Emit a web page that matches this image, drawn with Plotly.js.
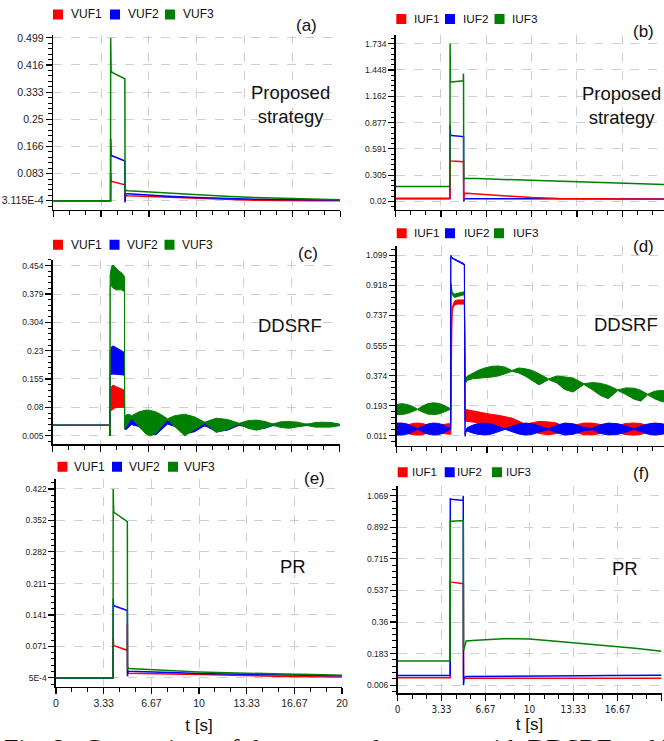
<!DOCTYPE html>
<html>
<head>
<meta charset="utf-8">
<script src="https://cdn.plot.ly/plotly-3.0.1.min.js"></script>
<style>html,body{margin:0;padding:0;background:#fff;}#chart{width:664px;height:741px;}</style>
</head>
<body>
<div id="chart"></div>
<script>
// ---------------- DATA ----------------
// common x ticks
const xTickVals = [0, 3.33, 6.67, 10, 13.33, 16.67, 20];
const xTickText = ['0', '3.33', '6.67', '10', '13.33', '16.67', '20'];

// (a) Proposed strategy - VUF
const tA    = [0, 3.99, 4.0, 4.03, 4.1, 4.99, 5.0, 5.03, 5.2, 6, 8, 10, 12, 14, 16, 18, 20];
const vufA1 = [0.0003, 0.0003, 0.085, 0.060, 0.059, 0.049, 0.000, 0.016, 0.0155, 0.014, 0.011, 0.0083, 0.005, 0.002, 0.0005, 0.0003, 0.0003];
const vufA2 = [0.0003, 0.0003, 0.190, 0.140, 0.138, 0.122, -0.005, 0.022, 0.0215, 0.019, 0.014, 0.0104, 0.007, 0.005, 0.004, 0.003, 0.0023];
const vufA3 = [0.0003, 0.0003, 0.499, 0.400, 0.393, 0.374, 0.020, 0.033, 0.031, 0.029, 0.022, 0.0186, 0.014, 0.010, 0.007, 0.005, 0.0033];
const yTickValsA = [0.0003115, 0.083, 0.166, 0.25, 0.333, 0.416, 0.499];
const yTickTextA = ['3.115E-4', '0.083', '0.166', '0.25', '0.333', '0.416', '0.499'];

// (b) Proposed strategy - IUF
const tB    = [0, 3.99, 4.0, 4.03, 4.1, 4.97, 4.98, 4.99, 5.0, 5.05, 6, 8, 10, 12, 14, 16, 18, 20];
const iufB1 = [0.056, 0.056, 0.49, 0.462, 0.46, 0.452, 0.452, 0.452, 0.03, 0.11, 0.10, 0.08, 0.062, 0.052, 0.048, 0.046, 0.045, 0.045];
const iufB2 = [0.049, 0.049, 0.85, 0.74, 0.735, 0.724, 0.724, 0.724, 0.02, 0.049, 0.049, 0.048, 0.048, 0.048, 0.048, 0.048, 0.048, 0.048];
const iufB3 = [0.182, 0.182, 1.734, 1.32, 1.318, 1.33, 1.41, 1.33, 0.26, 0.272, 0.268, 0.258, 0.249, 0.240, 0.231, 0.222, 0.213, 0.204];
const yTickValsB = [0.02, 0.305, 0.591, 0.877, 1.162, 1.448, 1.734];
const yTickTextB = ['0.02', '0.305', '0.591', '0.877', '1.162', '1.448', '1.734'];

// (c) DDSRF - VUF (upper / lower envelopes)
const tC      = [0, 3.98, 3.99, 4.0, 4.1, 4.2, 4.4, 4.6, 4.8, 5.0, 5.01, 5.1, 5.3, 5.5, 6.0, 6.5, 6.8, 7.2, 7.6, 8.0, 8.5, 9.2, 9.9, 10.6, 11.4, 12.2, 13.0, 13.6, 14.2, 14.8, 15.35, 15.9, 16.5, 17.1, 17.7, 18.3, 18.8, 19.4, 20];
const vufC1Hi = [0.033, 0.033, 0.005, 0.120, 0.135, 0.139, 0.135, 0.132, 0.128, 0.125, 0.023, 0.035, 0.048, 0.050, 0.042, 0.035, 0.035, 0.038, 0.040, 0.042, 0.040, 0.038, 0.038, 0.037, 0.037, 0.037, 0.036, 0.036, 0.036, 0.036, 0.035, 0.035, 0.035, 0.035, 0.035, 0.035, 0.035, 0.035, 0.035];
const vufC1Lo = [0.033, 0.033, 0.005, 0.075, 0.072, 0.075, 0.080, 0.080, 0.080, 0.080, 0.023, 0.022, 0.028, 0.035, 0.030, 0.020, 0.015, 0.018, 0.026, 0.036, 0.032, 0.030, 0.030, 0.031, 0.031, 0.031, 0.032, 0.032, 0.032, 0.032, 0.033, 0.033, 0.033, 0.033, 0.033, 0.033, 0.033, 0.033, 0.033];
const vufC2Hi = [0.033, 0.033, 0.005, 0.225, 0.240, 0.242, 0.238, 0.234, 0.230, 0.225, 0.023, 0.045, 0.055, 0.052, 0.045, 0.040, 0.040, 0.045, 0.045, 0.045, 0.045, 0.040, 0.040, 0.040, 0.040, 0.040, 0.037, 0.038, 0.038, 0.038, 0.036, 0.036, 0.036, 0.036, 0.036, 0.036, 0.036, 0.036, 0.036];
const vufC2Lo = [0.033, 0.033, 0.005, 0.170, 0.167, 0.168, 0.168, 0.167, 0.166, 0.165, 0.023, 0.022, 0.028, 0.035, 0.030, 0.015, 0.008, 0.008, 0.022, 0.036, 0.030, 0.010, 0.016, 0.032, 0.016, 0.020, 0.033, 0.028, 0.022, 0.025, 0.032, 0.030, 0.030, 0.030, 0.032, 0.031, 0.030, 0.031, 0.032];
const vufC3Hi = [0.033, 0.033, 0.005, 0.430, 0.452, 0.455, 0.448, 0.440, 0.435, 0.425, 0.023, 0.060, 0.062, 0.058, 0.068, 0.073, 0.072, 0.068, 0.060, 0.050, 0.058, 0.062, 0.055, 0.041, 0.0515, 0.048, 0.038, 0.045, 0.0465, 0.043, 0.036, 0.042, 0.0426, 0.041, 0.035, 0.040, 0.041, 0.040, 0.036];
const vufC3Lo = [0.033, 0.033, 0.005, 0.400, 0.400, 0.395, 0.390, 0.390, 0.390, 0.385, 0.023, 0.030, 0.040, 0.052, 0.030, 0.010, 0.005, 0.012, 0.030, 0.048, 0.030, 0.005, 0.022, 0.039, 0.014, 0.022, 0.036, 0.025, 0.020, 0.026, 0.034, 0.027, 0.025, 0.028, 0.033, 0.028, 0.027, 0.028, 0.032];
const yTickValsC = [0.005, 0.08, 0.155, 0.23, 0.304, 0.379, 0.454];
const yTickTextC = ['0.005', '0.08', '0.155', '0.23', '0.304', '0.379', '0.454'];

// (d) DDSRF - IUF (upper / lower envelopes)
const tD      = [0, 0.4, 0.8, 1.2, 1.55, 1.9, 2.3, 2.7, 3.1, 3.5, 3.9, 3.99, 4.0, 4.05, 4.1, 4.2, 4.3, 4.5, 4.7, 4.9, 5.0, 5.05, 5.1, 5.2, 5.6, 6.0, 6.5, 7.0, 7.5, 8.0, 8.5, 9.0, 9.5, 10.0, 10.5, 11.2, 11.8, 12.4, 13.0, 13.8, 14.4, 15.0, 15.6, 16.3, 16.9, 17.5, 18.0, 18.5, 19.0, 19.5, 20];
const iufD1Hi = [0.055, 0.065, 0.078, 0.086, 0.088, 0.086, 0.075, 0.055, 0.070, 0.080, 0.085, 0.085, 0.100, 0.720, 0.780, 0.810, 0.825, 0.830, 0.830, 0.830, 0.830, 0.170, 0.170, 0.168, 0.162, 0.155, 0.145, 0.140, 0.135, 0.128, 0.118, 0.100, 0.080, 0.090, 0.098, 0.095, 0.088, 0.062, 0.075, 0.088, 0.088, 0.080, 0.058, 0.075, 0.086, 0.088, 0.085, 0.072, 0.055, 0.070, 0.080];
const iufD1Lo = [0.049, 0.040, 0.025, 0.018, 0.016, 0.018, 0.028, 0.050, 0.035, 0.024, 0.020, 0.020, 0.020, 0.680, 0.760, 0.790, 0.800, 0.805, 0.805, 0.805, 0.805, 0.100, 0.100, 0.098, 0.095, 0.090, 0.085, 0.075, 0.065, 0.055, 0.050, 0.055, 0.065, 0.045, 0.025, 0.018, 0.025, 0.050, 0.035, 0.018, 0.016, 0.025, 0.048, 0.030, 0.018, 0.016, 0.020, 0.032, 0.050, 0.035, 0.025];
const iufD2Hi = [0.088, 0.088, 0.082, 0.068, 0.054, 0.068, 0.082, 0.088, 0.086, 0.075, 0.056, 0.052, 1.099, 1.090, 1.085, 1.080, 1.075, 1.068, 1.060, 1.052, 1.046, 0.020, 0.045, 0.060, 0.075, 0.085, 0.088, 0.082, 0.068, 0.054, 0.068, 0.082, 0.088, 0.084, 0.070, 0.055, 0.075, 0.088, 0.084, 0.062, 0.056, 0.078, 0.088, 0.084, 0.070, 0.054, 0.070, 0.082, 0.088, 0.085, 0.075];
const iufD2Lo = [0.016, 0.016, 0.022, 0.036, 0.050, 0.036, 0.022, 0.016, 0.018, 0.030, 0.048, 0.050, 1.090, 1.082, 1.078, 1.073, 1.069, 1.062, 1.054, 1.046, 1.040, 0.008, 0.030, 0.040, 0.028, 0.020, 0.016, 0.022, 0.036, 0.050, 0.036, 0.022, 0.016, 0.020, 0.034, 0.049, 0.030, 0.016, 0.020, 0.042, 0.048, 0.026, 0.016, 0.020, 0.034, 0.050, 0.034, 0.022, 0.016, 0.019, 0.030];
const iufD3Hi = [0.200, 0.205, 0.200, 0.188, 0.172, 0.190, 0.205, 0.210, 0.207, 0.195, 0.178, 0.172, 0.930, 0.900, 0.880, 0.870, 0.865, 0.870, 0.875, 0.880, 0.880, 0.370, 0.360, 0.370, 0.390, 0.405, 0.420, 0.430, 0.432, 0.425, 0.405, 0.420, 0.415, 0.405, 0.385, 0.354, 0.372, 0.368, 0.360, 0.325, 0.332, 0.328, 0.315, 0.288, 0.300, 0.298, 0.285, 0.262, 0.280, 0.285, 0.280];
const iufD3Lo = [0.140, 0.140, 0.145, 0.158, 0.170, 0.155, 0.142, 0.140, 0.142, 0.155, 0.168, 0.170, 0.900, 0.870, 0.860, 0.850, 0.845, 0.850, 0.855, 0.860, 0.860, 0.340, 0.330, 0.345, 0.355, 0.360, 0.362, 0.365, 0.372, 0.385, 0.400, 0.390, 0.370, 0.345, 0.318, 0.350, 0.330, 0.290, 0.275, 0.320, 0.290, 0.255, 0.235, 0.284, 0.260, 0.232, 0.220, 0.258, 0.235, 0.218, 0.212];
const yTickValsD = [0.011, 0.193, 0.374, 0.555, 0.737, 0.918, 1.099];
const yTickTextD = ['0.011', '0.193', '0.374', '0.555', '0.737', '0.918', '1.099'];

// (e) PR - VUF
const tE    = [0, 3.99, 4.0, 4.03, 4.1, 4.98, 4.99, 5.0, 5.03, 5.1, 6, 8, 10, 12, 14, 16, 18, 20];
const vufE1 = [0.0005, 0.0005, 0.092, 0.073, 0.072, 0.062, 0.120, 0.010, 0.012, 0.011, 0.010, 0.009, 0.008, 0.006, 0.0045, 0.0035, 0.003, 0.0027];
const vufE2 = [0.0005, 0.0005, 0.177, 0.162, 0.161, 0.151, 0.151, 0.004, 0.016, 0.0155, 0.015, 0.0125, 0.0103, 0.009, 0.008, 0.007, 0.006, 0.005];
const vufE3 = [0.0005, 0.0005, 0.422, 0.372, 0.369, 0.349, 0.349, 0.020, 0.024, 0.0215, 0.020, 0.017, 0.0139, 0.012, 0.010, 0.009, 0.0078, 0.0065];
const yTickValsE = [0.0005, 0.071, 0.141, 0.211, 0.282, 0.352, 0.422];
const yTickTextE = ['5E-4', '0.071', '0.141', '0.211', '0.282', '0.352', '0.422'];

// (f) PR - IUF
const tF    = [0, 3.99, 4.0, 4.03, 4.1, 4.97, 4.98, 4.99, 5.0, 5.05, 5.2, 6, 7, 8, 9, 10, 12, 14, 16, 18, 20];
const iufF1 = [0.047, 0.047, 0.590, 0.585, 0.584, 0.575, 0.575, 0.575, 0.040, 0.045, 0.045, 0.045, 0.045, 0.044, 0.044, 0.044, 0.044, 0.044, 0.044, 0.045, 0.045];
const iufF2 = [0.060, 0.060, 1.051, 1.050, 1.049, 1.042, 1.069, 0.500, 0.006, 0.050, 0.055, 0.055, 0.055, 0.056, 0.056, 0.057, 0.058, 0.059, 0.060, 0.060, 0.061];
const iufF3 = [0.142, 0.142, 0.930, 0.925, 0.925, 0.930, 0.930, 0.930, 0.200, 0.211, 0.254, 0.258, 0.263, 0.266, 0.267, 0.265, 0.252, 0.240, 0.228, 0.213, 0.196];
const yTickValsF = [0.006, 0.183, 0.36, 0.537, 0.715, 0.892, 1.069];
const yTickTextF = ['0.006', '0.183', '0.36', '0.537', '0.715', '0.892', '1.069'];

const vufNames = ['VUF1', 'VUF2', 'VUF3'];
const iufNames = ['IUF1', 'IUF2', 'IUF3'];
const seriesColors = ['#ff0000', '#0000ff', '#008000'];

// ---------------- LAYOUT HELPERS ----------------
const W = 664, H = 741;
const fx = px => px / W;
const fy = py => 1 - py / H;
const AXIS_FONT = 'Liberation Sans, Arial, sans-serif';
const NARROW_FONT = '"Liberation Sans Narrow", "Arial Narrow", "DejaVu Sans Condensed", "Liberation Sans", sans-serif';

function makeX(l, r, range, anchor, labels, font) {
  return {
    domain: [fx(l), fx(r)], range: range, anchor: anchor,
    showline: true, linecolor: '#000', linewidth: 1.6, mirror: false,
    ticks: 'outside', ticklen: 6, tickwidth: 1.2, tickcolor: '#000',
    tickmode: 'array', tickvals: xTickVals, ticktext: xTickText,
    showticklabels: labels, tickfont: font || {size: 10.5, family: AXIS_FONT, color: '#222'},
    showgrid: true, gridcolor: '#cfcfcf', griddash: 'dash', gridwidth: 1,
    zeroline: false, fixedrange: true,
    minor: {ticks: 'outside', ticklen: 4, tickwidth: 1, tickcolor: '#000', tick0: 0, dtick: 20 / 18, showgrid: false}
  };
}
function makeY(top, bottom, range, anchor, vals, text, fsize) {
  return {
    domain: [fy(bottom), fy(top)], range: range, anchor: anchor,
    showline: true, linecolor: '#000', linewidth: 1.6,
    ticks: 'outside', ticklen: 6, tickwidth: 1.2, tickcolor: '#000',
    tickmode: 'array', tickvals: vals, ticktext: text,
    tickfont: {size: fsize, family: AXIS_FONT, color: '#222'},
    showgrid: true, gridcolor: '#cfcfcf', griddash: 'dash', gridwidth: 1,
    zeroline: false, fixedrange: true,
    minor: {ticks: 'outside', ticklen: 3.5, tickwidth: 1, tickcolor: '#000', tick0: vals[0], dtick: (vals[6] - vals[0]) / 30, showgrid: false}
  };
}

const traces = [];
function lineTrace(t, v, color, xa, ya) {
  traces.push({x: t, y: v, mode: 'lines', line: {color: color, width: 1.5}, xaxis: xa, yaxis: ya, showlegend: false, hoverinfo: 'skip'});
}
function bandTrace(t, hi, lo, color, xa, ya) {
  const xs = t.concat(t.slice().reverse());
  const ys = hi.concat(lo.slice().reverse());
  traces.push({x: xs, y: ys, mode: 'lines', fill: 'toself', fillcolor: color, line: {color: color, width: 1}, xaxis: xa, yaxis: ya, showlegend: false, hoverinfo: 'skip'});
}

// Legend: Plotly legend boxes carry the colour squares; the series names sit next to
// them as text labels, placed where the reference has them.
const legends = {};
const legendLabels = [];
let legendCount = 0;
function legendCfg(symX, symY) {
  return {
    x: fx(symX - 20), y: fy(symY), xanchor: 'left', yanchor: 'middle',
    orientation: 'h', bgcolor: 'rgba(0,0,0,0)', borderwidth: 0,
    font: {size: 1, color: 'rgba(0,0,0,0)'},
    itemclick: false, itemdoubleclick: false, valign: 'middle'
  };
}
function legendTraces(names, xa, ya, symXs, textXs, symY, fsize) {
  names.forEach((n, i) => {
    legendCount += 1;
    const id = legendCount === 1 ? 'legend' : 'legend' + legendCount;
    legends[id] = legendCfg(symXs[i], symY);
    traces.push({
      x: [null], y: [null], mode: 'markers', name: ' ',
      marker: {symbol: 'square', size: 10, color: seriesColors[i]},
      xaxis: xa, yaxis: ya, legend: id, showlegend: true
    });
    legendLabels.push({
      text: n, x: fx(textXs[i] - 1.5), y: fy(symY), xref: 'paper', yref: 'paper',
      xanchor: 'left', yanchor: 'middle', showarrow: false,
      font: {size: fsize, family: AXIS_FONT, color: '#111'}
    });
  });
}

// (a)
lineTrace(tA, vufA1, seriesColors[0], 'x', 'y');
lineTrace(tA, vufA2, seriesColors[1], 'x', 'y');
lineTrace(tA, vufA3, seriesColors[2], 'x', 'y');
legendTraces(vufNames, 'x', 'y', [58, 115, 170], [70.7, 127.7, 182.7], 12.5, 12);
// (b)
lineTrace(tB, iufB2, seriesColors[1], 'x2', 'y2');
lineTrace(tB, iufB1, seriesColors[0], 'x2', 'y2');
lineTrace(tB, iufB3, seriesColors[2], 'x2', 'y2');
legendTraces(iufNames, 'x2', 'y2', [401.3, 450, 499.5], [413.3, 462.7, 511.7], 17, 11.8);
// (c)
bandTrace(tC, vufC1Hi, vufC1Lo, seriesColors[0], 'x3', 'y3');
bandTrace(tC, vufC2Hi, vufC2Lo, seriesColors[1], 'x3', 'y3');
bandTrace(tC, vufC3Hi, vufC3Lo, seriesColors[2], 'x3', 'y3');
legendTraces(vufNames, 'x3', 'y3', [58, 114.5, 169.5], [70.7, 126.7, 181.7], 243.3, 12);
// (d)
bandTrace(tD, iufD3Hi, iufD3Lo, seriesColors[2], 'x4', 'y4');
bandTrace(tD, iufD1Hi, iufD1Lo, seriesColors[0], 'x4', 'y4');
bandTrace(tD, iufD2Hi, iufD2Lo, seriesColors[1], 'x4', 'y4');
legendTraces(iufNames, 'x4', 'y4', [401.7, 450, 499], [413.7, 463, 512], 232, 11.8);
// (e)
lineTrace(tE, vufE1, seriesColors[0], 'x5', 'y5');
lineTrace(tE, vufE2, seriesColors[1], 'x5', 'y5');
lineTrace(tE, vufE3, seriesColors[2], 'x5', 'y5');
legendTraces(vufNames, 'x5', 'y5', [62.5, 117, 173], [73.3, 128.3, 184], 466, 12);
// (f)
lineTrace(tF, iufF1, seriesColors[0], 'x6', 'y6');
lineTrace(tF, iufF2, seriesColors[1], 'x6', 'y6');
lineTrace(tF, iufF3, seriesColors[2], 'x6', 'y6');
legendTraces(iufNames, 'x6', 'y6', [402.7, 449.7, 497], [411.7, 456, 505.7], 471.5, 11.5);

const bigFont = {size: 18.5, family: AXIS_FONT, color: '#111'};
const lblFont = {size: 17, family: AXIS_FONT, color: '#111'};
function ann(text, px, py, font) {
  return {text: text, x: fx(px), y: fy(py), xref: 'paper', yref: 'paper', xanchor: 'center', yanchor: 'middle', showarrow: false, font: font};
}

const xf = makeX(397.5, 661.5, [0, 20], 'y6', true, {size: 10, family: NARROW_FONT, color: '#222'});
xf.title = {text: 't [s]', font: {size: 17, family: AXIS_FONT, color: '#111'}, standoff: 4};
const xe = makeX(56, 342, [0, 20], 'y5', true, {size: 10.5, family: AXIS_FONT, color: '#222'});
xe.title = {text: 't [s]', font: {size: 17, family: AXIS_FONT, color: '#111'}, standoff: 11};

const layout = Object.assign({
  width: W, height: H, autosize: false,
  margin: {l: 0, r: 0, t: 0, b: 0, pad: 0},
  paper_bgcolor: '#fff', plot_bgcolor: 'rgba(0,0,0,0)',
  showlegend: true,
  xaxis:  makeX(53.3, 340.2, [0, 20], 'y', false),
  yaxis:  makeY(33.3, 208.3, [-0.0272, 0.5072], 'x', yTickValsA, yTickTextA, 10.5),
  xaxis2: makeX(395.7, 664, [0, 19.73], 'y2', false),
  yaxis2: makeY(33.3, 208.3, [-0.0699, 1.825], 'x2', yTickValsB, yTickTextB, 8.5),
  xaxis3: makeX(52.8, 339.5, [0, 20], 'y3', false),
  yaxis3: makeY(258.3, 443.3, [-0.0168, 0.4698], 'x3', yTickValsC, yTickTextC, 8.5),
  xaxis4: makeX(396.5, 664, [0, 19.7], 'y4', false),
  yaxis4: makeY(245, 445, [-0.049, 1.153], 'x4', yTickValsD, yTickTextD, 8.5),
  xaxis5: xe,
  yaxis5: makeY(478.3, 686.7, [-0.0195, 0.4443], 'x5', yTickValsE, yTickTextE, 8.5),
  xaxis6: xf,
  yaxis6: makeY(485, 693.3, [-0.0404, 1.125], 'x6', yTickValsF, yTickTextF, 8.5),
  annotations: legendLabels.concat([
    ann('(a)', 306.7, 23.3, lblFont),
    ann('(b)', 643.3, 30, lblFont),
    ann('(c)', 307.7, 251.7, lblFont),
    ann('(d)', 643.3, 245, lblFont),
    ann('(e)', 314, 478, lblFont),
    ann('(f)', 641, 473, lblFont),
    ann('Proposed<br>strategy', 290, 103, bigFont),
    ann('Proposed<br>strategy', 621.7, 103.5, bigFont),
    ann('DDSRF', 290, 324, bigFont),
    ann('DDSRF', 625.7, 323.5, bigFont),
    ann('PR', 293, 565.7, bigFont),
    ann('PR', 625.3, 568, bigFont),
    {text: 'Fig. 8.  Comparison of the proposed strategy with DDSRF and PR', x: fx(2), y: fy(732), xref: 'paper', yref: 'paper', xanchor: 'left', yanchor: 'top', showarrow: false, font: {size: 26, family: 'Liberation Serif, Times New Roman, serif', color: '#111'}}
  ])
}, legends);

Plotly.newPlot('chart', traces, layout, {displayModeBar: false, staticPlot: true});
</script>
</body>
</html>
